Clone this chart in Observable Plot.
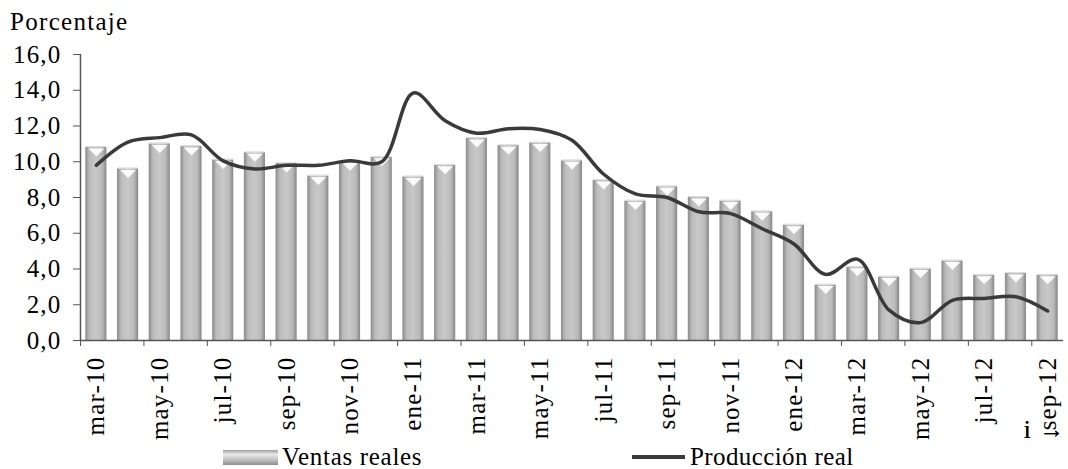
<!DOCTYPE html>
<html><head><meta charset="utf-8">
<script src="https://cdn.jsdelivr.net/npm/d3@7"></script>
<script src="https://cdn.jsdelivr.net/npm/@observablehq/plot@0.6"></script>
<style>
body{margin:0;background:#fff;font-family:'Liberation Serif',Tinos,'Times New Roman',Times,'DejaVu Serif',serif;}
#wrap{position:relative;width:1068px;height:469px;overflow:hidden;background:#fff;}
#chart{position:absolute;left:0;top:0;}
.t{position:absolute;font-size:25px;line-height:1;color:#000;white-space:nowrap;}
.sw{position:absolute;}
#chart svg text{font-family:'Liberation Serif',Tinos,'Times New Roman',Times,'DejaVu Serif',serif;letter-spacing:1.2px;}
</style></head><body>
<div id="wrap">
<div class="t" style="left:10px;top:9px;letter-spacing:1.3px;">Porcentaje</div>
<div id="chart"></div>
<div class="sw" style="left:223px;top:450px;width:55px;height:15px;background:linear-gradient(to bottom,#a0a0a0 0%,#e8e8e8 30%,#c8c8c8 60%,#8e8e8e 100%);"></div>
<div class="t" style="left:282px;top:444px;letter-spacing:0.7px;">Ventas reales</div>
<div class="sw" style="left:632px;top:455px;width:53px;height:4px;background:#3a3a3a;"></div>
<div class="t" style="left:690px;top:444px;letter-spacing:0.4px;">Producción real</div>
</div>
<script>
const months = ["mar-10","abr-10","may-10","jun-10","jul-10","ago-10","sep-10","oct-10","nov-10","dic-10",
  "ene-11","feb-11","mar-11","abr-11","may-11","jun-11","jul-11","ago-11","sep-11","oct-11","nov-11","dic-11",
  "ene-12","feb-12","mar-12","abr-12","may-12","jun-12","jul-12","ago-12","sep-12"];
const ventas = [10.8,9.6,11.0,10.85,10.1,10.5,9.9,9.2,10.0,10.25,
  9.15,9.8,11.3,10.9,11.05,10.05,8.95,7.8,8.6,8.0,7.8,7.2,
  6.45,3.1,4.1,3.55,4.0,4.45,3.65,3.75,3.65];
const produccion = [9.8,11.1,11.35,11.5,10.05,9.6,9.8,9.8,10.05,10.0,
  13.85,12.3,11.6,11.85,11.8,11.2,9.3,8.2,8.0,7.2,7.1,6.25,
  5.4,3.7,4.55,1.7,1.0,2.25,2.35,2.45,1.65];
const yTicks = [0,2,4,6,8,10,12,14,16];
const labelIdx = d3.range(0, months.length, 2);

const data = months.map((m, i) => ({i, m, v: ventas[i], p: produccion[i]}));

// flat downward-pointing highlight triangle
const vSymbol = {draw(ctx) { ctx.moveTo(-8, 0); ctx.lineTo(8, 0); ctx.lineTo(0, 8); ctx.closePath(); }};

const plot = Plot.plot({
  width: 1068, height: 440,
  marginTop: 54, marginBottom: 100, marginLeft: 80, marginRight: 5,
  x: {type: "linear", domain: [0, months.length]},
  y: {domain: [0, 16]},
  style: {fontFamily: "'Liberation Serif',Tinos,'Times New Roman',Times,'DejaVu Serif',serif", fontSize: "25px", color: "#000", background: "transparent", overflow: "visible"},
  marks: [
    Plot.rectY(data, {x1: "i", x2: d => d.i + 1, y: "v", insetLeft: 5.3, insetRight: 5.3, fill: "url(#barGrad)"}),
    Plot.rectY(data, {x1: "i", x2: d => d.i + 1, y1: d => d.v, y2: d => d.v, insetLeft: 6, insetRight: 6, insetTop: -1, fill: "#dcdcdc"}),
    Plot.dot(data, {x: d => d.i + 0.5, y: "v", symbol: vSymbol, fill: "white", fillOpacity: 0.92, dy: 1}),
    Plot.line(data, {x: d => d.i + 0.5, y: "p", curve: "catmull-rom", stroke: "#3a3a3a", strokeWidth: 3.5}),
    Plot.ruleY([0], {stroke: "#555", strokeWidth: 1.5}),
    Plot.ruleX([0], {stroke: "#555", strokeWidth: 1.5}),
    Plot.axisY({ticks: yTicks, tickSize: 7, tickPadding: 12, stroke: "#555", tickFormat: d => d.toFixed(1).replace(".", ",")}),
    Plot.axisX({ticks: labelIdx, tickSize: 6, stroke: "#555", tickFormat: () => ""}),
    Plot.axisX({ticks: labelIdx.map(i => i + 0.5), tickSize: 0, tickPadding: 16, tickRotate: -90, tickFormat: d => months[Math.floor(d)]})
  ]
});
plot.insertAdjacentHTML("afterbegin",
  '<defs><linearGradient id="barGrad" x1="0" x2="1" y1="0" y2="0">' +
  '<stop offset="0" stop-color="#8a8a8a"/><stop offset="0.2" stop-color="#bcbcbc"/>' +
  '<stop offset="0.5" stop-color="#c8c8c8"/><stop offset="0.8" stop-color="#bababa"/>' +
  '<stop offset="1" stop-color="#868686"/></linearGradient></defs>');
document.getElementById("chart").appendChild(plot);
</script>
</body></html>
